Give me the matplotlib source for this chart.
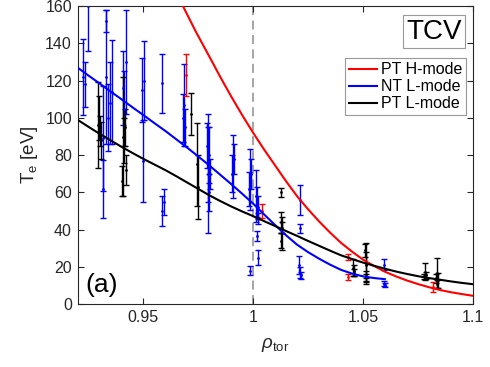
import matplotlib
matplotlib.use('Agg')
import matplotlib.pyplot as plt

# fitted profiles
rho_ph = [0.968, 0.974, 0.98, 0.985, 0.99, 0.995, 1.0, 1.005, 1.01, 1.015, 1.02, 1.025,
          1.03, 1.035, 1.04, 1.045, 1.05, 1.055, 1.06, 1.065, 1.07, 1.075, 1.08, 1.085,
          1.09, 1.095, 1.1]
te_ph = [160, 146, 133, 122, 111.5, 101.5, 92, 83, 74.5, 66, 58, 51,
         44.5, 38.5, 33, 28.3, 24, 20.6, 17.5, 15, 12.8, 10.9, 9.2, 7.7,
         6.5, 5.5, 4.6]

rho_nl = [0.92, 0.925, 0.93, 0.935, 0.94, 0.945, 0.95, 0.955, 0.96, 0.965, 0.97, 0.975,
          0.98, 0.985, 0.99, 0.995, 1.0, 1.005, 1.01, 1.015, 1.02, 1.025, 1.03, 1.035,
          1.04, 1.045, 1.05, 1.055, 1.06]
te_nl = [127, 122.7, 118.5, 114.2, 110, 105.7, 101.5, 97.2, 93, 88.5, 84, 79.3,
         74.5, 69.5, 64.5, 59.3, 54, 48.2, 42.5, 37, 32, 28, 24.5, 21.3,
         18.5, 16.5, 15, 14.1, 13.5]

rho_pl = [0.92, 0.925, 0.93, 0.935, 0.94, 0.945, 0.95, 0.955, 0.96, 0.965, 0.97, 0.975,
          0.98, 0.985, 0.99, 0.995, 1.0, 1.005, 1.01, 1.015, 1.02, 1.025, 1.03, 1.035,
          1.04, 1.045, 1.05, 1.055, 1.06, 1.065, 1.07, 1.075, 1.08, 1.085, 1.09, 1.095, 1.1]
te_pl = [99, 95.2, 91.5, 88, 84.5, 81.2, 78, 75, 72, 68.7, 65.3, 61.9,
         58.5, 55.4, 52.5, 49.8, 47.3, 44.6, 42, 39.3, 36.7, 34, 31.4, 28.8,
         26.3, 24.3, 22.4, 20.7, 19.1, 17.6, 16.3, 15.1, 14.1, 13.2, 12.3, 11.5, 10.8]

# Thomson points with error bars
x_nt = [0.9227, 0.9234, 0.9247, 0.9315, 0.9315, 0.9330, 0.9330, 0.9356, 0.9347, 0.9338,
        0.9420, 0.9406, 0.9411, 0.9502, 0.9493, 0.9497, 0.9584, 0.9584, 0.9593,
        0.9684, 0.9680, 0.9689, 0.9793, 0.9798, 0.9796, 0.9789, 0.9798, 0.9803,
        0.9907, 0.9912, 0.9903, 0.9985, 0.9990, 0.9980, 0.9985,
        1.0012, 1.0017, 1.0021, 1.0021, 1.0017, 1.0021,
        1.0213, 1.0213, 1.0209, 1.0213, 1.0218,
        1.0597, 1.0597, 1.0600]
te_nt = [122, 118, 160, 89, 62, 122, 152, 114, 108, 100,
         130, 116, 105, 120, 115, 77, 118.5, 50, 55,
         107, 100, 95, 70, 80, 75, 85, 60, 70,
         74, 78, 70, 67, 70, 62, 18,
         58, 55, 52, 46, 36.7, 25,
         56, 40.7, 21, 17, 15.5,
         21.3, 11, 10.5]
err_nt = [20.5, 12, 24, 28, 15.5, 36, 6, 28, 22, 18,
          28, 20, 20, 21, 17, 22, 16, 8, 7,
          22, 13, 10, 32, 15, 20, 12, 10, 8,
          17, 8, 10, 16.5, 8, 9, 2.3,
          14, 8, 6, 3, 2.5, 4,
          8, 2.4, 5, 3, 2,
          2.9, 1.3, 1]

x_pl = [0.9292, 0.9297, 0.9301, 0.9306, 0.9406, 0.9415, 0.9411, 0.9420, 0.9402,
        0.9719, 0.9743, 0.9748,
        1.0126, 1.0129, 1.0131, 1.0127, 1.0133,
        1.0456, 1.0460, 1.0458, 1.0510, 1.0514, 1.0512, 1.0516, 1.0512,
        1.0783, 1.0786, 1.0780, 1.0837, 1.0840, 1.0835, 1.0837]
te_plp = [96, 100, 93, 88, 90, 95, 88, 72, 66,
          102, 75, 63,
          60, 44, 38, 34, 41,
          19.6, 18, 17, 29, 22, 21, 15, 14.5,
          17.5, 15.5, 15, 17, 13, 14, 11]
err_pl = [23, 12, 8, 10, 32, 10, 12, 8, 8,
          11.2, 22, 17,
          2.2, 5.5, 9, 4, 3,
          4.5, 3, 2, 3.5, 11, 7, 3, 2,
          4.5, 2, 1.5, 8, 4, 2.5, 2]

x_ph = [0.9692, 1.0041, 1.0433, 1.0433, 1.0820]
te_php = [123, 50, 25.3, 14.6, 9.3]
err_ph = [11.5, 3.8, 1.5, 1.6, 2.5]

plt.rcParams['font.family'] = ['Liberation Sans', 'DejaVu Sans']
plt.rcParams['mathtext.fontset'] = 'custom'
plt.rcParams['mathtext.rm'] = 'Liberation Sans'
plt.rcParams['mathtext.it'] = 'Liberation Sans:italic'
tc = '#262626'

fig = plt.figure(figsize=(4.9, 3.67), dpi=100)
ax = fig.add_axes([0.1582, 0.1708, 0.8065, 0.8128])

ax.axvline(1.0, color='0.62', ls=(0, (5, 3)), lw=1.3, zorder=1)

eb = dict(fmt='.', markersize=2, capsize=2.3, elinewidth=1, capthick=1, zorder=2)
ax.errorbar(x_nt, te_nt, yerr=err_nt, color='b', **eb)
ax.errorbar(x_pl, te_plp, yerr=err_pl, color='k', **eb)
ax.errorbar(x_ph, te_php, yerr=err_ph, color='r', **eb)

ax.plot(rho_ph, te_ph, color='r', lw=1.5, label='PT H-mode', zorder=3)
ax.plot(rho_nl, te_nl, color='b', lw=1.5, label='NT L-mode', zorder=3)
ax.plot(rho_pl, te_pl, color='k', lw=1.5, label='PT L-mode', zorder=3)

ax.set_xlim(0.92, 1.1)
ax.set_ylim(0, 160)
ax.set_xticks([0.95, 1.0, 1.05, 1.1])
ax.set_xticklabels(['0.95', '1', '1.05', '1.1'])
ax.set_yticks(range(0, 161, 20))
ax.tick_params(direction='in', top=True, right=True, length=4, width=0.8,
               labelsize=11.5, colors=tc, labelcolor=tc, pad=4)
for s in ax.spines.values():
    s.set_color(tc)
    s.set_linewidth(0.8)

ax.set_xlabel(r'$\rho_{\rm tor}$', fontsize=13.5, color=tc, labelpad=8)
ax.set_ylabel(r'T$_{\rm e}$ [eV]', fontsize=13.5, color=tc, labelpad=4)

leg = ax.legend(loc='upper right', bbox_to_anchor=(0.983, 0.8247), borderaxespad=0,
                fontsize=11.5, handlelength=1.7, handletextpad=0.25, labelspacing=0.12,
                borderpad=0.25, fancybox=False, framealpha=1, edgecolor='0.6')
leg.get_frame().set_linewidth(0.8)

ax.text(0.9018, 0.9139, 'TCV', transform=ax.transAxes, ha='center', va='center',
        fontsize=20, color='k',
        bbox=dict(boxstyle='square,pad=0.12', fc='w', ec='0.6', lw=0.8))
ax.text(0.019, 0.066, '(a)', transform=ax.transAxes, ha='left', va='center',
        fontsize=19, color='k')

plt.savefig('out.png', dpi=100)
